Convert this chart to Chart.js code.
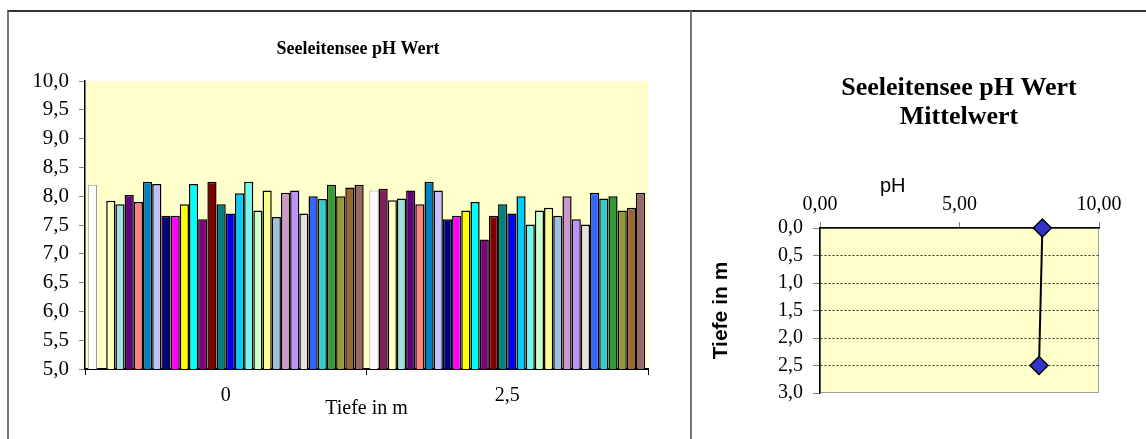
<!DOCTYPE html>
<html>
<head>
<meta charset="utf-8">
<script src="https://cdn.jsdelivr.net/npm/chart.js@4"></script>
<style>
  body { margin: 0; background: #fff; width: 1146px; height: 439px; overflow: hidden; position: relative; }
  .box { position: absolute; top: 11px; height: 428px; overflow: hidden; }
  .frame { position: absolute; top: 10px; height: 440px; border-top: 2px solid #333; border-left: 2px solid #777; }
</style>
</head>
<body>
<div class="box" style="left:8px;width:682px"><canvas id="bars" width="694" height="428"></canvas></div>
<div class="box" style="left:691px;width:455px"><canvas id="mean" width="518" height="428"></canvas></div>
<div class="frame" style="left:7px;width:683px"></div>
<div class="frame" style="left:690px;width:460px"></div>
<script>
const depthLabels = ["0", "2,5"]
// pH per series (30 Messreihen) at depth 0 m and 2,5 m
const phDepth0 = [8.2, 5.0, 7.92, 7.86, 8.02, 7.9, 8.25, 8.21, 7.66, 7.66, 7.86, 8.21, 7.6, 8.25, 7.86,
  7.7, 8.05, 8.25, 7.75, 8.1, 7.64, 8.06, 8.1, 7.7, 8.0, 7.95, 8.2, 8.0, 8.15, 8.2]
const phDepth25 = [8.1, 8.13, 7.93, 7.96, 8.1, 7.86, 8.25, 8.1, 7.6, 7.66, 7.75, 7.9, 7.25, 7.66, 7.86,
  7.7, 8.0, 7.51, 7.75, 7.8, 7.66, 8.0, 7.6, 7.51, 8.06, 7.96, 8.0, 7.75, 7.8, 8.06]
const seriesColors = ["#FFFFFF", "#7F1F5F", "#FFFFC0", "#A0E0E0", "#600080", "#FF8080", "#0080C0", "#C0C0FF",
  "#000080", "#FF00FF", "#FFFF00", "#00FFFF", "#800080", "#800000", "#008080", "#0000FF", "#00CCFF",
  "#70F8F0", "#CCFFCC", "#FFFF90", "#A0C0E0", "#CC99CC", "#C090FF", "#E3E3E3", "#3366FF", "#33CCCC",
  "#339933", "#999933", "#996633", "#996666"]
const meanPh = [7.97, 7.85]
const meanDepth = [0, 2.5]

const plotYellow = "#FFFFCC"
const serif = "'Liberation Serif', 'Times New Roman', serif"
const sans = "'Liberation Sans', Arial, sans-serif"
const comma = (v, d) => Number(v).toFixed(d).replace(".", ",")

const plotBackground = {
  id: "plotBackground",
  beforeDraw(chart, args, opts) {
    const { ctx, chartArea: a } = chart
    ctx.save()
    ctx.fillStyle = plotYellow
    ctx.fillRect(a.left, a.top, a.width, a.height)
    if (opts.edge) {
      ctx.strokeStyle = opts.edge
      ctx.lineWidth = 1
      ctx.strokeRect(a.left + 0.5, a.top + 0.5, a.width - 1, a.height - 1)
    }
    ctx.restore()
  },
}

// empty axis on the right, only there to shift the centred title
const spacer = w => ({
  type: "linear",
  position: "right",
  afterFit: s => { s.width = w },
  grid: { display: false },
  border: { display: false },
  ticks: { display: false },
})

// bar chart, left
new Chart(document.getElementById("bars"), {
  type: "bar",
  data: {
    labels: depthLabels,
    datasets: seriesColors.map((c, i) => ({
      label: "Reihe " + (i + 1),
      data: [phDepth0[i], phDepth25[i]],
      backgroundColor: c,
      borderColor: i === 0 ? "#999" : "#000",
      borderWidth: i === 0 ? 1 : 1.5,
      categoryPercentage: 0.98,
      barPercentage: 1,
    })),
  },
  plugins: [plotBackground],
  options: {
    responsive: false,
    animation: false,
    devicePixelRatio: 1,
    layout: { padding: { left: 6, right: 0, top: 0, bottom: 0 } },
    plugins: {
      legend: { display: false },
      tooltip: { enabled: false },
      plotBackground: {},
      title: {
        display: true,
        text: "Seeleitensee pH Wert",
        color: "#000",
        font: { family: serif, size: 18, weight: "bold", lineHeight: 1.2 },
        padding: { top: 28, bottom: 20.4 },
      },
    },
    scales: {
      x: {
        afterFit: s => { s.height = 70 },
        grid: { offset: true, drawOnChartArea: false, tickLength: 6, color: "#000" },
        border: { color: "#000", width: 2 },
        ticks: { color: "#000", padding: 9, font: { family: serif, size: 20 } },
        title: {
          display: true,
          text: "Tiefe in m",
          color: "#000",
          font: { family: serif, size: 20, lineHeight: 1.2 },
          padding: { top: 0, bottom: 18 },
        },
      },
      y: {
        min: 5,
        max: 10,
        afterFit: s => { s.width = 71 },
        grid: { drawOnChartArea: false, tickLength: 6, color: "#808080" },
        border: { color: "#000", width: 1.5 },
        ticks: { stepSize: 0.5, color: "#000", padding: 10, font: { family: serif, size: 21 }, callback: v => comma(v, 1) },
      },
      spacer: spacer(54),
    },
  },
})

// "pH" label above the top axis
const phLabel = {
  id: "phLabel",
  afterDraw(chart) {
    const { ctx, chartArea: a } = chart
    ctx.save()
    ctx.font = "20px " + sans
    ctx.fillStyle = "#000"
    ctx.textBaseline = "middle"
    ctx.fillText("pH", a.left + 60, a.top - 42)
    ctx.restore()
  },
}

// mean profile, right
new Chart(document.getElementById("mean"), {
  type: "line",
  data: {
    datasets: [{
      label: "Mittelwert",
      data: meanPh.map((v, i) => ({ x: v, y: meanDepth[i] })),
      borderColor: "#000",
      borderWidth: 2,
      pointStyle: "rectRot",
      pointRadius: 9,
      pointBackgroundColor: "#3333CC",
      pointBorderColor: "#000",
      pointBorderWidth: 1.5,
      clip: false,
    }],
  },
  plugins: [plotBackground, phLabel],
  options: {
    responsive: false,
    animation: false,
    devicePixelRatio: 1,
    layout: { padding: { left: 18, right: 0, top: 0, bottom: 46 } },
    plugins: {
      legend: { display: false },
      tooltip: { enabled: false },
      plotBackground: { edge: "#A0A0A0" },
      title: {
        display: true,
        text: ["Seeleitensee pH Wert", "Mittelwert"],
        color: "#000",
        font: { family: serif, size: 26, weight: "bold", lineHeight: 1.12 },
        padding: { top: 62.5, bottom: 56.3 },
      },
    },
    scales: {
      x: {
        type: "linear",
        position: "top",
        min: 0,
        max: 10,
        afterFit: s => { s.height = 40 },
        grid: { drawOnChartArea: false, tickLength: 6, color: "#808080" },
        border: { color: "#000", width: 1.5 },
        ticks: { stepSize: 5, color: "#000", padding: 5, font: { family: serif, size: 20 }, callback: v => comma(v, 2) },
      },
      y: {
        type: "linear",
        reverse: true,
        min: 0,
        max: 3,
        afterFit: s => { s.width = 111 },
        grid: {
          tickLength: 7,
          color: c => (c.tick && (c.tick.value === 0 || c.tick.value === 3) ? "rgba(0,0,0,0)" : "#333"),
          tickColor: "#808080",
        },
        border: { color: "#000", width: 1.5, dash: [2, 2] },
        ticks: { stepSize: 0.5, color: "#000", padding: 10, font: { family: serif, size: 20 }, callback: v => comma(v, 1) },
        title: {
          display: true,
          text: "Tiefe in m",
          color: "#000",
          font: { family: sans, size: 21, weight: "bold", lineHeight: 1.2 },
          padding: { top: 0, bottom: 0 },
        },
      },
      spacer: spacer(110),
    },
  },
})
</script>
</body>
</html>
